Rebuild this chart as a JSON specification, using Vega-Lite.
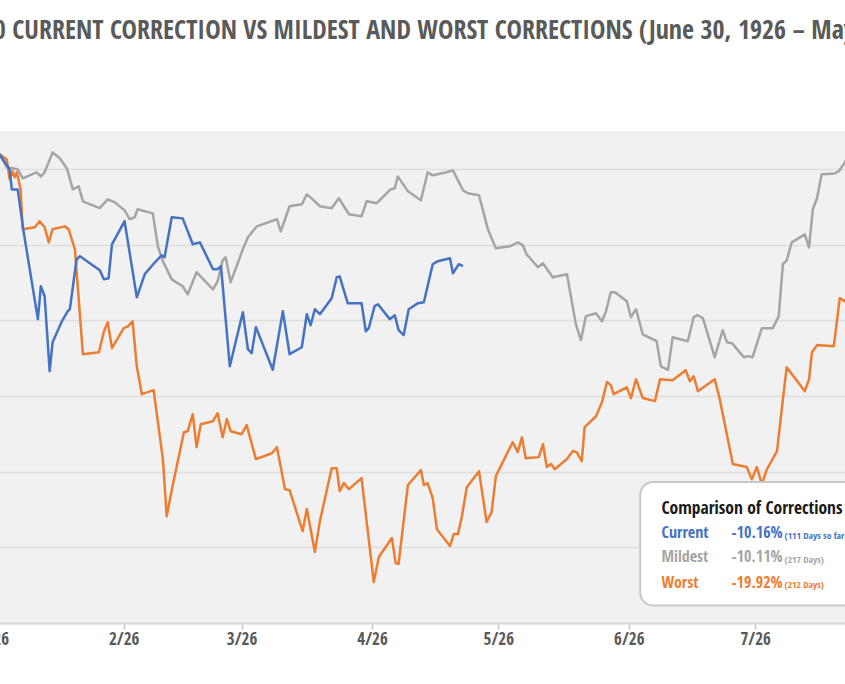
{
  "$schema": "https://vega.github.io/schema/vega-lite/v6.json",
  "width": 905,
  "height": 492,
  "autosize": {"type": "none"},
  "padding": {"left": -32, "right": -28, "top": 131, "bottom": 61},
  "background": "#ffffff",
  "title": {
    "text": "S&P 500 CURRENT CORRECTION VS MILDEST AND WORST CORRECTIONS (June 30, 1926 – May 2025)",
    "anchor": "start",
    "frame": "group",
    "dx": -43,
    "offset": 74,
    "baseline": "middle",
    "font": "Open Sans Condensed, Liberation Sans, sans-serif",
    "fontSize": 26,
    "fontWeight": "bold",
    "color": "#5a5a5a"
  },
  "config": {
    "view": {"fill": "#f1f1f1", "stroke": null},
    "font": "Open Sans Condensed, Liberation Sans, sans-serif"
  },
  "datasets": {
    "corrections": [
      {"series": "Current", "pct": "-10.16%", "note": "(111 Days so far)"},
      {"series": "Mildest", "pct": "-10.11%", "note": "(217 Days)"},
      {"series": "Worst", "pct": "-19.92%", "note": "(212 Days)"}
    ],
    "lines": [
      {"series": "Mildest", "day": 0, "pct": 0},
      {"series": "Mildest", "day": 1.5, "pct": -0.14},
      {"series": "Mildest", "day": 3.2, "pct": -0.74},
      {"series": "Mildest", "day": 5.8, "pct": -0.83},
      {"series": "Mildest", "day": 7.0, "pct": -1.25},
      {"series": "Mildest", "day": 10.3, "pct": -0.97},
      {"series": "Mildest", "day": 11.3, "pct": -1.16},
      {"series": "Mildest", "day": 12.2, "pct": -0.97},
      {"series": "Mildest", "day": 14.1, "pct": -0.05},
      {"series": "Mildest", "day": 15.8, "pct": -0.32},
      {"series": "Mildest", "day": 17.5, "pct": -0.79},
      {"series": "Mildest", "day": 18.9, "pct": -1.76},
      {"series": "Mildest", "day": 20.3, "pct": -1.62},
      {"series": "Mildest", "day": 21.3, "pct": -2.31},
      {"series": "Mildest", "day": 25.3, "pct": -2.63},
      {"series": "Mildest", "day": 27.2, "pct": -2.22},
      {"series": "Mildest", "day": 28.9, "pct": -2.36},
      {"series": "Mildest", "day": 31.2, "pct": -2.73},
      {"series": "Mildest", "day": 32.4, "pct": -3.14},
      {"series": "Mildest", "day": 33.6, "pct": -3.05},
      {"series": "Mildest", "day": 34.3, "pct": -2.68},
      {"series": "Mildest", "day": 37.9, "pct": -2.87},
      {"series": "Mildest", "day": 39.1, "pct": -4.39},
      {"series": "Mildest", "day": 40.3, "pct": -5.08},
      {"series": "Mildest", "day": 42.4, "pct": -5.92},
      {"series": "Mildest", "day": 45.0, "pct": -6.24},
      {"series": "Mildest", "day": 46.2, "pct": -6.61},
      {"series": "Mildest", "day": 48.3, "pct": -5.59},
      {"series": "Mildest", "day": 52.2, "pct": -6.38},
      {"series": "Mildest", "day": 53.3, "pct": -6.01},
      {"series": "Mildest", "day": 54.5, "pct": -5.04},
      {"series": "Mildest", "day": 55.2, "pct": -4.90},
      {"series": "Mildest", "day": 56.4, "pct": -6.05},
      {"series": "Mildest", "day": 59.3, "pct": -4.53},
      {"series": "Mildest", "day": 60.5, "pct": -3.97},
      {"series": "Mildest", "day": 62.6, "pct": -3.47},
      {"series": "Mildest", "day": 67.4, "pct": -3.14},
      {"series": "Mildest", "day": 68.3, "pct": -3.70},
      {"series": "Mildest", "day": 70.4, "pct": -2.54},
      {"series": "Mildest", "day": 73.3, "pct": -2.45},
      {"series": "Mildest", "day": 74.5, "pct": -1.99},
      {"series": "Mildest", "day": 75.9, "pct": -2.22},
      {"series": "Mildest", "day": 77.6, "pct": -2.54},
      {"series": "Mildest", "day": 80.4, "pct": -2.63},
      {"series": "Mildest", "day": 82.1, "pct": -2.17},
      {"series": "Mildest", "day": 84.5, "pct": -2.91},
      {"series": "Mildest", "day": 87.5, "pct": -3.00},
      {"series": "Mildest", "day": 88.7, "pct": -2.31},
      {"series": "Mildest", "day": 91.1, "pct": -2.40},
      {"series": "Mildest", "day": 94.4, "pct": -1.76},
      {"series": "Mildest", "day": 95.4, "pct": -1.71},
      {"series": "Mildest", "day": 96.1, "pct": -1.16},
      {"series": "Mildest", "day": 98.5, "pct": -1.85},
      {"series": "Mildest", "day": 101.6, "pct": -2.26},
      {"series": "Mildest", "day": 103.2, "pct": -0.97},
      {"series": "Mildest", "day": 104.4, "pct": -1.11},
      {"series": "Mildest", "day": 107.7, "pct": -0.97},
      {"series": "Mildest", "day": 109.2, "pct": -0.88},
      {"series": "Mildest", "day": 111.6, "pct": -1.80},
      {"series": "Mildest", "day": 112.7, "pct": -1.94},
      {"series": "Mildest", "day": 115.4, "pct": -2.03},
      {"series": "Mildest", "day": 117.5, "pct": -3.60},
      {"series": "Mildest", "day": 119.4, "pct": -4.48},
      {"series": "Mildest", "day": 122.7, "pct": -4.39},
      {"series": "Mildest", "day": 124.6, "pct": -4.21},
      {"series": "Mildest", "day": 125.8, "pct": -4.34},
      {"series": "Mildest", "day": 126.7, "pct": -4.76},
      {"series": "Mildest", "day": 129.4, "pct": -5.36},
      {"series": "Mildest", "day": 130.6, "pct": -5.18},
      {"series": "Mildest", "day": 132.9, "pct": -5.82},
      {"series": "Mildest", "day": 136.3, "pct": -5.68},
      {"series": "Mildest", "day": 138.4, "pct": -7.99},
      {"series": "Mildest", "day": 139.6, "pct": -8.73},
      {"series": "Mildest", "day": 140.8, "pct": -7.62},
      {"series": "Mildest", "day": 143.2, "pct": -7.49},
      {"series": "Mildest", "day": 144.6, "pct": -7.86},
      {"series": "Mildest", "day": 145.5, "pct": -7.44},
      {"series": "Mildest", "day": 146.7, "pct": -6.52},
      {"series": "Mildest", "day": 147.7, "pct": -6.52},
      {"series": "Mildest", "day": 150.5, "pct": -6.93},
      {"series": "Mildest", "day": 151.5, "pct": -7.67},
      {"series": "Mildest", "day": 152.7, "pct": -7.30},
      {"series": "Mildest", "day": 154.3, "pct": -8.46},
      {"series": "Mildest", "day": 157.6, "pct": -8.78},
      {"series": "Mildest", "day": 158.6, "pct": -9.94},
      {"series": "Mildest", "day": 160.3, "pct": -10.11},
      {"series": "Mildest", "day": 161.4, "pct": -8.60},
      {"series": "Mildest", "day": 165.0, "pct": -8.78},
      {"series": "Mildest", "day": 166.4, "pct": -7.67},
      {"series": "Mildest", "day": 167.4, "pct": -7.58},
      {"series": "Mildest", "day": 168.6, "pct": -7.72},
      {"series": "Mildest", "day": 171.4, "pct": -9.52},
      {"series": "Mildest", "day": 173.3, "pct": -8.27},
      {"series": "Mildest", "day": 174.3, "pct": -8.83},
      {"series": "Mildest", "day": 175.5, "pct": -8.87},
      {"series": "Mildest", "day": 178.3, "pct": -9.52},
      {"series": "Mildest", "day": 179.3, "pct": -9.47},
      {"series": "Mildest", "day": 180.4, "pct": -9.52},
      {"series": "Mildest", "day": 182.6, "pct": -8.18},
      {"series": "Mildest", "day": 185.2, "pct": -8.18},
      {"series": "Mildest", "day": 186.6, "pct": -7.62},
      {"series": "Mildest", "day": 187.6, "pct": -5.22},
      {"series": "Mildest", "day": 188.5, "pct": -5.04},
      {"series": "Mildest", "day": 189.7, "pct": -4.21},
      {"series": "Mildest", "day": 192.8, "pct": -3.84},
      {"series": "Mildest", "day": 193.8, "pct": -4.44},
      {"series": "Mildest", "day": 194.7, "pct": -2.68},
      {"series": "Mildest", "day": 195.7, "pct": -2.17},
      {"series": "Mildest", "day": 196.8, "pct": -1.06},
      {"series": "Mildest", "day": 199.9, "pct": -1.02},
      {"series": "Mildest", "day": 200.9, "pct": -0.92},
      {"series": "Mildest", "day": 202.3, "pct": -0.51},
      {"series": "Mildest", "day": 204.0, "pct": 0.1},
      {"series": "Worst", "day": 0, "pct": 0},
      {"series": "Worst", "day": 1.5, "pct": -0.14},
      {"series": "Worst", "day": 3.2, "pct": -0.37},
      {"series": "Worst", "day": 3.9, "pct": -1.29},
      {"series": "Worst", "day": 4.6, "pct": -0.92},
      {"series": "Worst", "day": 5.1, "pct": -1.20},
      {"series": "Worst", "day": 5.6, "pct": -0.97},
      {"series": "Worst", "day": 6.5, "pct": -1.76},
      {"series": "Worst", "day": 7.0, "pct": -3.60},
      {"series": "Worst", "day": 9.9, "pct": -3.51},
      {"series": "Worst", "day": 11.0, "pct": -3.23},
      {"series": "Worst", "day": 12.2, "pct": -3.51},
      {"series": "Worst", "day": 13.2, "pct": -4.21},
      {"series": "Worst", "day": 14.1, "pct": -3.60},
      {"series": "Worst", "day": 17.0, "pct": -3.47},
      {"series": "Worst", "day": 17.9, "pct": -3.60},
      {"series": "Worst", "day": 19.4, "pct": -4.53},
      {"series": "Worst", "day": 21.3, "pct": -9.38},
      {"series": "Worst", "day": 25.1, "pct": -9.29},
      {"series": "Worst", "day": 26.3, "pct": -8.32},
      {"series": "Worst", "day": 27.2, "pct": -7.90},
      {"series": "Worst", "day": 28.2, "pct": -9.10},
      {"series": "Worst", "day": 31.0, "pct": -8.18},
      {"series": "Worst", "day": 32.0, "pct": -8.09},
      {"series": "Worst", "day": 33.1, "pct": -7.86},
      {"series": "Worst", "day": 34.1, "pct": -9.94},
      {"series": "Worst", "day": 35.3, "pct": -11.23},
      {"series": "Worst", "day": 38.1, "pct": -11.04},
      {"series": "Worst", "day": 40.3, "pct": -14.23},
      {"series": "Worst", "day": 41.2, "pct": -16.87},
      {"series": "Worst", "day": 42.6, "pct": -15.48},
      {"series": "Worst", "day": 45.3, "pct": -12.99},
      {"series": "Worst", "day": 46.2, "pct": -12.94},
      {"series": "Worst", "day": 47.4, "pct": -12.15},
      {"series": "Worst", "day": 48.3, "pct": -13.68},
      {"series": "Worst", "day": 49.3, "pct": -12.62},
      {"series": "Worst", "day": 52.2, "pct": -12.48},
      {"series": "Worst", "day": 53.3, "pct": -12.11},
      {"series": "Worst", "day": 54.5, "pct": -13.22},
      {"series": "Worst", "day": 55.5, "pct": -12.38},
      {"series": "Worst", "day": 56.4, "pct": -12.94},
      {"series": "Worst", "day": 59.0, "pct": -13.08},
      {"series": "Worst", "day": 60.2, "pct": -12.66},
      {"series": "Worst", "day": 62.4, "pct": -14.23},
      {"series": "Worst", "day": 66.2, "pct": -13.96},
      {"series": "Worst", "day": 67.4, "pct": -13.68},
      {"series": "Worst", "day": 69.3, "pct": -15.62},
      {"series": "Worst", "day": 70.4, "pct": -15.67},
      {"series": "Worst", "day": 73.5, "pct": -17.56},
      {"series": "Worst", "day": 74.5, "pct": -16.54},
      {"series": "Worst", "day": 76.4, "pct": -18.53},
      {"series": "Worst", "day": 77.6, "pct": -17.10},
      {"series": "Worst", "day": 80.4, "pct": -14.65},
      {"series": "Worst", "day": 81.6, "pct": -14.65},
      {"series": "Worst", "day": 82.3, "pct": -15.71},
      {"series": "Worst", "day": 83.3, "pct": -15.34},
      {"series": "Worst", "day": 84.5, "pct": -15.62},
      {"series": "Worst", "day": 87.5, "pct": -15.11},
      {"series": "Worst", "day": 90.4, "pct": -19.92},
      {"series": "Worst", "day": 91.6, "pct": -18.76},
      {"series": "Worst", "day": 94.7, "pct": -17.88},
      {"series": "Worst", "day": 95.6, "pct": -19.04},
      {"series": "Worst", "day": 96.3, "pct": -19.08},
      {"series": "Worst", "day": 98.5, "pct": -15.43},
      {"series": "Worst", "day": 101.6, "pct": -14.74},
      {"series": "Worst", "day": 102.3, "pct": -15.43},
      {"series": "Worst", "day": 103.2, "pct": -15.34},
      {"series": "Worst", "day": 104.4, "pct": -16.04},
      {"series": "Worst", "day": 105.4, "pct": -17.47},
      {"series": "Worst", "day": 108.5, "pct": -18.25},
      {"series": "Worst", "day": 109.4, "pct": -17.70},
      {"series": "Worst", "day": 110.4, "pct": -17.70},
      {"series": "Worst", "day": 111.3, "pct": -16.91},
      {"series": "Worst", "day": 112.5, "pct": -15.53},
      {"series": "Worst", "day": 115.4, "pct": -14.79},
      {"series": "Worst", "day": 117.2, "pct": -17.14},
      {"series": "Worst", "day": 118.4, "pct": -16.68},
      {"series": "Worst", "day": 119.4, "pct": -15.02},
      {"series": "Worst", "day": 123.4, "pct": -13.45},
      {"series": "Worst", "day": 124.6, "pct": -13.91},
      {"series": "Worst", "day": 125.6, "pct": -13.22},
      {"series": "Worst", "day": 126.5, "pct": -14.19},
      {"series": "Worst", "day": 129.6, "pct": -14.14},
      {"series": "Worst", "day": 130.6, "pct": -13.54},
      {"series": "Worst", "day": 131.5, "pct": -14.60},
      {"series": "Worst", "day": 132.5, "pct": -14.46},
      {"series": "Worst", "day": 133.4, "pct": -14.70},
      {"series": "Worst", "day": 136.3, "pct": -14.23},
      {"series": "Worst", "day": 137.7, "pct": -13.86},
      {"series": "Worst", "day": 138.6, "pct": -13.91},
      {"series": "Worst", "day": 139.8, "pct": -14.33},
      {"series": "Worst", "day": 140.5, "pct": -12.75},
      {"series": "Worst", "day": 143.2, "pct": -12.25},
      {"series": "Worst", "day": 144.6, "pct": -11.60},
      {"series": "Worst", "day": 145.8, "pct": -10.67},
      {"series": "Worst", "day": 146.7, "pct": -10.81},
      {"series": "Worst", "day": 147.4, "pct": -11.23},
      {"series": "Worst", "day": 150.5, "pct": -10.91},
      {"series": "Worst", "day": 151.5, "pct": -11.41},
      {"series": "Worst", "day": 152.7, "pct": -10.54},
      {"series": "Worst", "day": 154.3, "pct": -11.41},
      {"series": "Worst", "day": 157.2, "pct": -11.55},
      {"series": "Worst", "day": 158.4, "pct": -10.54},
      {"series": "Worst", "day": 161.4, "pct": -10.58},
      {"series": "Worst", "day": 164.5, "pct": -10.12},
      {"series": "Worst", "day": 165.5, "pct": -10.63},
      {"series": "Worst", "day": 166.4, "pct": -10.40},
      {"series": "Worst", "day": 167.4, "pct": -11.09},
      {"series": "Worst", "day": 171.4, "pct": -10.54},
      {"series": "Worst", "day": 172.6, "pct": -11.46},
      {"series": "Worst", "day": 175.7, "pct": -14.46},
      {"series": "Worst", "day": 179.0, "pct": -14.60},
      {"series": "Worst", "day": 180.2, "pct": -15.16},
      {"series": "Worst", "day": 181.4, "pct": -14.60},
      {"series": "Worst", "day": 182.6, "pct": -15.39},
      {"series": "Worst", "day": 183.8, "pct": -14.70},
      {"series": "Worst", "day": 186.2, "pct": -13.86},
      {"series": "Worst", "day": 187.6, "pct": -11.46},
      {"series": "Worst", "day": 188.5, "pct": -9.98},
      {"series": "Worst", "day": 192.8, "pct": -11.09},
      {"series": "Worst", "day": 193.8, "pct": -10.54},
      {"series": "Worst", "day": 194.5, "pct": -9.29},
      {"series": "Worst", "day": 195.7, "pct": -8.96},
      {"series": "Worst", "day": 199.7, "pct": -9.01},
      {"series": "Worst", "day": 201.1, "pct": -6.79},
      {"series": "Worst", "day": 202.3, "pct": -6.93},
      {"series": "Worst", "day": 206.0, "pct": -6.0},
      {"series": "Current", "day": 0, "pct": 0},
      {"series": "Current", "day": 1.5, "pct": -0.14},
      {"series": "Current", "day": 3.9, "pct": -0.83},
      {"series": "Current", "day": 4.4, "pct": -1.76},
      {"series": "Current", "day": 5.8, "pct": -1.76},
      {"series": "Current", "day": 7.2, "pct": -3.70},
      {"series": "Current", "day": 10.6, "pct": -7.76},
      {"series": "Current", "day": 11.3, "pct": -6.24},
      {"series": "Current", "day": 12.2, "pct": -6.70},
      {"series": "Current", "day": 13.4, "pct": -10.16},
      {"series": "Current", "day": 14.1, "pct": -8.83},
      {"series": "Current", "day": 16.3, "pct": -7.86},
      {"series": "Current", "day": 17.7, "pct": -7.39},
      {"series": "Current", "day": 18.2, "pct": -7.30},
      {"series": "Current", "day": 19.8, "pct": -4.99},
      {"series": "Current", "day": 20.6, "pct": -4.85},
      {"series": "Current", "day": 25.3, "pct": -5.50},
      {"series": "Current", "day": 26.3, "pct": -5.92},
      {"series": "Current", "day": 27.4, "pct": -5.87},
      {"series": "Current", "day": 28.2, "pct": -4.30},
      {"series": "Current", "day": 31.2, "pct": -3.23},
      {"series": "Current", "day": 34.1, "pct": -6.75},
      {"series": "Current", "day": 36.0, "pct": -5.68},
      {"series": "Current", "day": 38.4, "pct": -5.13},
      {"series": "Current", "day": 40.0, "pct": -4.81},
      {"series": "Current", "day": 40.7, "pct": -4.90},
      {"series": "Current", "day": 42.4, "pct": -3.05},
      {"series": "Current", "day": 45.0, "pct": -3.10},
      {"series": "Current", "day": 47.4, "pct": -4.30},
      {"series": "Current", "day": 49.1, "pct": -4.21},
      {"series": "Current", "day": 52.2, "pct": -5.45},
      {"series": "Current", "day": 53.3, "pct": -5.45},
      {"series": "Current", "day": 54.1, "pct": -5.31},
      {"series": "Current", "day": 56.2, "pct": -9.94},
      {"series": "Current", "day": 59.3, "pct": -7.44},
      {"series": "Current", "day": 60.5, "pct": -9.15},
      {"series": "Current", "day": 61.4, "pct": -9.33},
      {"series": "Current", "day": 62.4, "pct": -8.13},
      {"series": "Current", "day": 66.4, "pct": -10.10},
      {"series": "Current", "day": 68.8, "pct": -7.39},
      {"series": "Current", "day": 70.4, "pct": -9.38},
      {"series": "Current", "day": 73.3, "pct": -9.06},
      {"series": "Current", "day": 74.5, "pct": -7.53},
      {"series": "Current", "day": 75.4, "pct": -8.04},
      {"series": "Current", "day": 76.4, "pct": -7.30},
      {"series": "Current", "day": 77.6, "pct": -7.53},
      {"series": "Current", "day": 80.4, "pct": -6.79},
      {"series": "Current", "day": 81.6, "pct": -5.82},
      {"series": "Current", "day": 82.3, "pct": -5.78},
      {"series": "Current", "day": 84.2, "pct": -7.02},
      {"series": "Current", "day": 87.5, "pct": -7.02},
      {"series": "Current", "day": 88.5, "pct": -8.32},
      {"series": "Current", "day": 89.2, "pct": -8.18},
      {"series": "Current", "day": 90.6, "pct": -7.16},
      {"series": "Current", "day": 91.4, "pct": -7.07},
      {"series": "Current", "day": 94.2, "pct": -7.76},
      {"series": "Current", "day": 95.4, "pct": -7.58},
      {"series": "Current", "day": 96.3, "pct": -8.27},
      {"series": "Current", "day": 97.5, "pct": -8.50},
      {"series": "Current", "day": 98.7, "pct": -7.30},
      {"series": "Current", "day": 100.9, "pct": -7.02},
      {"series": "Current", "day": 102.3, "pct": -6.98},
      {"series": "Current", "day": 104.4, "pct": -5.22},
      {"series": "Current", "day": 105.6, "pct": -5.08},
      {"series": "Current", "day": 108.5, "pct": -4.94},
      {"series": "Current", "day": 109.2, "pct": -5.64},
      {"series": "Current", "day": 110.6, "pct": -5.22},
      {"series": "Current", "day": 111.6, "pct": -5.31}
    ]
  },
  "layer": [
    {
      "data": {"name": "lines"},
      "mark": {"type": "line", "strokeWidth": 2.5, "strokeJoin": "round", "clip": true},
      "encoding": {
        "x": {
          "field": "day", "type": "quantitative",
          "scale": {"domain": [-6, 209], "nice": false, "zero": false},
          "axis": {
            "values": [0, 31, 59, 90, 120, 151, 181],
            "labelExpr": "['1/26','2/26','3/26','4/26','5/26','6/26','7/26'][indexof([0,31,59,90,120,151,181], datum.value)]",
            "title": null, "grid": false,
            "domainColor": "#d6d6d6", "domainWidth": 2,
            "tickColor": "#c4c4c4", "tickSize": 6, "tickWidth": 1.5,
            "labelFont": "Open Sans Condensed, Liberation Sans, sans-serif",
            "labelFontSize": 17, "labelFontWeight": "bold", "labelColor": "#5a5a5a",
            "labelPadding": 2
          }
        },
        "y": {
          "field": "pct", "type": "quantitative",
          "scale": {"domain": [-21.81, 0.94], "nice": false, "zero": false},
          "axis": {
            "values": [-0.81, -4.31, -7.81, -11.31, -14.81, -18.31],
            "title": null, "labels": false, "ticks": false, "domain": false,
            "grid": true, "gridColor": "#dedede", "gridWidth": 1.5
          }
        },
        "color": {
          "field": "series", "type": "nominal",
          "scale": {"domain": ["Mildest", "Worst", "Current"], "range": ["#A5A5A5", "#ED7D31", "#4472C4"]},
          "legend": null
        }
      }
    },
    {
      "data": {"values": [{}]},
      "mark": {"type": "rect", "fill": "#ffffff", "stroke": "#c8c8c8", "strokeWidth": 2, "cornerRadius": 13},
      "encoding": {
        "x": {"datum": 153.7}, "x2": {"datum": 218},
        "y": {"datum": -15.29}, "y2": {"datum": -21.0}
      }
    },
    {
      "data": {"values": [{"t": "Comparison of Corrections"}]},
      "mark": {"type": "text", "align": "left", "baseline": "middle", "fontSize": 17.5, "fontWeight": "bold", "fill": "#1a1a1a"},
      "encoding": {"x": {"datum": 158.75}, "y": {"datum": -16.52}, "text": {"field": "t"}}
    },
    {
      "data": {"name": "corrections"},
      "transform": [{"filter": "datum.series === 'Current'"}],
      "mark": {"type": "text", "align": "left", "baseline": "middle", "fontSize": 16, "fontWeight": 600, "fill": "#4472C4"},
      "encoding": {"x": {"datum": 158.75}, "y": {"datum": -17.67}, "text": {"field": "series"}}
    },
    {
      "data": {"name": "corrections"},
      "transform": [{"filter": "datum.series === 'Current'"}],
      "mark": {"type": "text", "align": "left", "baseline": "middle", "fontSize": 16, "fontWeight": 600, "fill": "#4472C4"},
      "encoding": {"x": {"datum": 175.4}, "y": {"datum": -17.67}, "text": {"field": "pct"}}
    },
    {
      "data": {"name": "corrections"},
      "transform": [{"filter": "datum.series === 'Current'"}],
      "mark": {"type": "text", "align": "left", "baseline": "middle", "fontSize": 9.5, "fontWeight": "bold", "fill": "#4472C4"},
      "encoding": {"x": {"datum": 188.0}, "y": {"datum": -17.78}, "text": {"field": "note"}}
    },
    {
      "data": {"name": "corrections"},
      "transform": [{"filter": "datum.series === 'Mildest'"}],
      "mark": {"type": "text", "align": "left", "baseline": "middle", "fontSize": 16, "fontWeight": 600, "fill": "#A5A5A5"},
      "encoding": {"x": {"datum": 158.75}, "y": {"datum": -18.78}, "text": {"field": "series"}}
    },
    {
      "data": {"name": "corrections"},
      "transform": [{"filter": "datum.series === 'Mildest'"}],
      "mark": {"type": "text", "align": "left", "baseline": "middle", "fontSize": 16, "fontWeight": 600, "fill": "#A5A5A5"},
      "encoding": {"x": {"datum": 175.4}, "y": {"datum": -18.78}, "text": {"field": "pct"}}
    },
    {
      "data": {"name": "corrections"},
      "transform": [{"filter": "datum.series === 'Mildest'"}],
      "mark": {"type": "text", "align": "left", "baseline": "middle", "fontSize": 9.5, "fontWeight": "bold", "fill": "#A5A5A5"},
      "encoding": {"x": {"datum": 188.0}, "y": {"datum": -18.89}, "text": {"field": "note"}}
    },
    {
      "data": {"name": "corrections"},
      "transform": [{"filter": "datum.series === 'Worst'"}],
      "mark": {"type": "text", "align": "left", "baseline": "middle", "fontSize": 16, "fontWeight": 600, "fill": "#ED7D31"},
      "encoding": {"x": {"datum": 158.75}, "y": {"datum": -19.94}, "text": {"field": "series"}}
    },
    {
      "data": {"name": "corrections"},
      "transform": [{"filter": "datum.series === 'Worst'"}],
      "mark": {"type": "text", "align": "left", "baseline": "middle", "fontSize": 16, "fontWeight": 600, "fill": "#ED7D31"},
      "encoding": {"x": {"datum": 175.4}, "y": {"datum": -19.94}, "text": {"field": "pct"}}
    },
    {
      "data": {"name": "corrections"},
      "transform": [{"filter": "datum.series === 'Worst'"}],
      "mark": {"type": "text", "align": "left", "baseline": "middle", "fontSize": 9.5, "fontWeight": "bold", "fill": "#ED7D31"},
      "encoding": {"x": {"datum": 188.0}, "y": {"datum": -20.05}, "text": {"field": "note"}}
    }
  ]
}
